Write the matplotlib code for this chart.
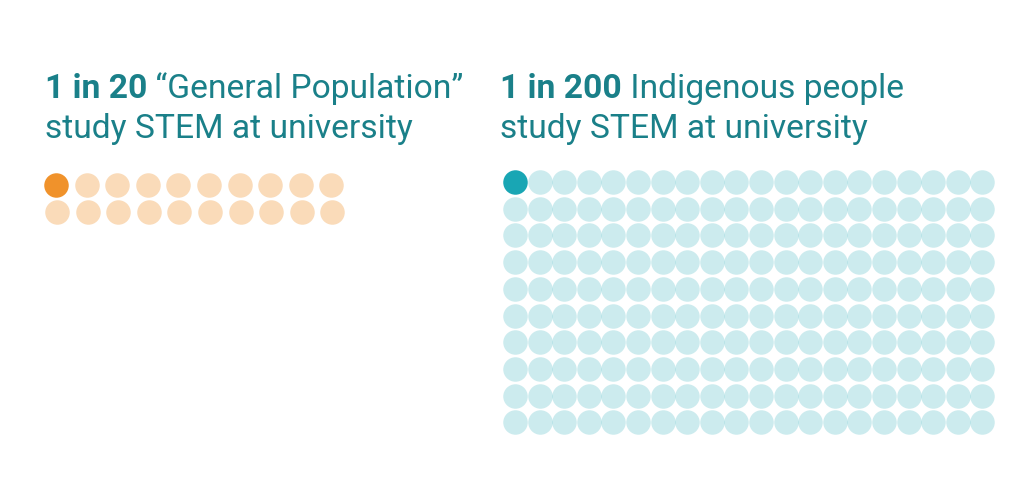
import matplotlib
matplotlib.use("Agg")
import matplotlib.pyplot as plt
import numpy as np

# ---- data ----
groups = ["General Population", "Indigenous people"]
ratio_num = [1, 1]
ratio_den = [20, 200]
grid_rows = [2, 10]
grid_cols = [10, 20]
title_bold = ["1 in 20", "1 in 200"]
title_rest = [" \u201cGeneral Population\u201d", " Indigenous people"]
title_line2 = ["study STEM at university", "study STEM at university"]

dark_colors = ["#F0922B", "#19A6B4"]
light_alpha = [0.33, 0.22]
title_color = "#1A8089"

W, H, DPI = 1024, 502, 100
fig = plt.figure(figsize=(W / DPI, H / DPI), dpi=DPI)
ax = fig.add_axes([0, 0, 1, 1])
ax.set_xlim(0, W)
ax.set_ylim(H, 0)
ax.axis("off")

# layout (pixels)
panel_x = [45, 500]
dot_x0 = [56, 515]
dot_y0 = [186, 183]
dot_dx = [30.6, 24.6]
dot_dy = [27.0, 26.7]
dot_d = [24.5, 24.5]
row_shift = [1.0, 0.0]

font = "Roboto"
fs = 24.2
base1, base2 = 98, 138

for g in range(2):
    rows, cols = grid_rows[g], grid_cols[g]
    n = ratio_den[g]
    idx = np.arange(n)
    r = idx // cols
    c = idx % cols
    xs = dot_x0[g] + c * dot_dx[g] + r * row_shift[g]
    ys = dot_y0[g] + r * dot_dy[g]
    s = (dot_d[g] * 72 / DPI) ** 2
    hl = idx < ratio_num[g]
    ax.scatter(xs[~hl], ys[~hl], s=s, color=dark_colors[g], alpha=light_alpha[g],
               linewidths=0)
    ax.scatter(xs[hl], ys[hl], s=s, color=dark_colors[g], linewidths=0)

    t = ax.text(panel_x[g], base1, title_bold[g], fontsize=fs, family=font,
                fontweight="bold", color=title_color, va="baseline", ha="left")
    ax.annotate(title_rest[g], xy=(1, 0), xycoords=t, xytext=(0, 0),
                textcoords="offset points", fontsize=fs, family=font,
                color=title_color, va="bottom", ha="left")
    ax.text(panel_x[g], base2, title_line2[g], fontsize=fs, family=font,
            color=title_color, va="baseline", ha="left")

fig.savefig("out.png", dpi=DPI, facecolor="white")
